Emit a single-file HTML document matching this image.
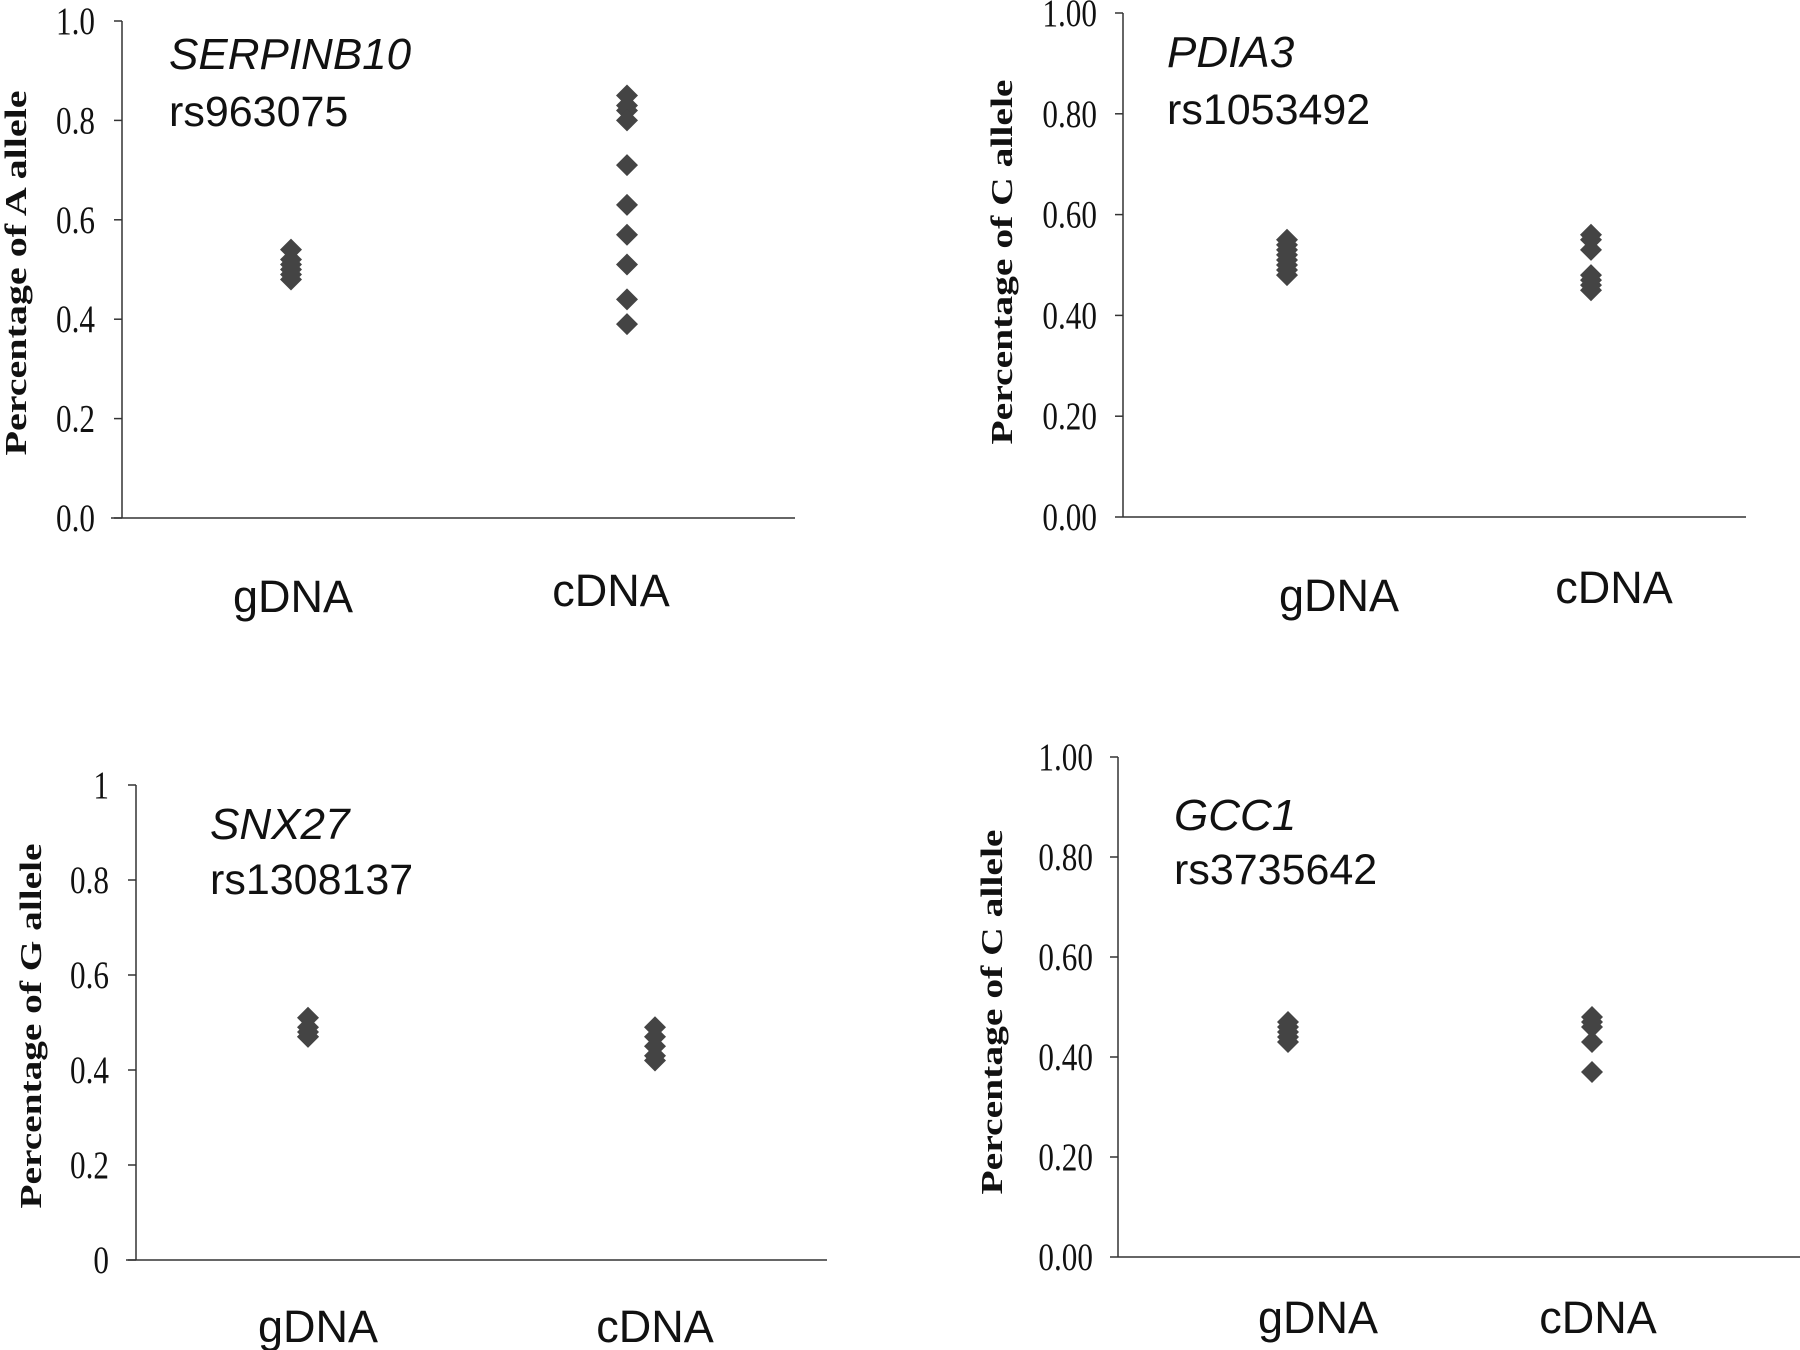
<!DOCTYPE html>
<html><head><meta charset="utf-8"><style>
html,body{margin:0;padding:0;background:#fff;}
svg{display:block;}
.tick{font-family:"Liberation Serif",serif;font-size:39px;fill:#111;}
.ytitle{font-family:"Liberation Serif",serif;font-size:31px;font-weight:bold;fill:#111;}
.cat{font-family:"Liberation Sans",sans-serif;font-size:45px;fill:#111;}
.gene{font-family:"Liberation Sans",sans-serif;font-size:44px;font-style:italic;fill:#111;}
.snp{font-family:"Liberation Sans",sans-serif;font-size:43px;fill:#111;}
</style></head><body>
<svg id="chart" width="1800" height="1350" viewBox="0 0 1800 1350"></svg>
<script>
const p1Gdna=[0.54,0.52,0.51,0.50,0.49,0.48];
const p1Cdna=[0.85,0.83,0.82,0.80,0.71,0.63,0.57,0.51,0.44,0.39];
const p2Gdna=[0.55,0.54,0.53,0.52,0.51,0.50,0.49,0.48];
const p2Cdna=[0.56,0.55,0.53,0.48,0.47,0.46,0.45];
const p3Gdna=[0.51,0.49,0.48,0.47,0.47];
const p3Cdna=[0.49,0.47,0.45,0.43,0.42];
const p4Gdna=[0.47,0.46,0.45,0.44,0.43];
const p4Cdna=[0.48,0.47,0.46,0.43,0.37];
const ticks1=["0.0","0.2","0.4","0.6","0.8","1.0"];
const ticks2=["0.00","0.20","0.40","0.60","0.80","1.00"];
const ticks3=["0","0.2","0.4","0.6","0.8","1"];
const categories=["gDNA","cDNA"];

const NS="http://www.w3.org/2000/svg";
const svg=document.getElementById('chart');
function mk(tag,attrs,parent){const e=document.createElementNS(NS,tag);for(const k in attrs)e.setAttribute(k,attrs[k]);(parent||svg).appendChild(e);return e;}

const panels=[
 {id:'serpinb10',ax:122,y0:518,y1:21,xl:111,xr:795,gx:[291,627],lx:[293,611],lb:[612,606],tr:95,tx:16,ty:273,title:'Percentage of A allele',gene:'SERPINB10',snp:'rs963075',nx:169,nb:69,sb:126,ticks:ticks1,g:p1Gdna,c:p1Cdna},
 {id:'pdia3',ax:1123,y0:517,y1:13,xl:1123,xr:1746,gx:[1287,1591],lx:[1339,1614],lb:[611,603],tr:1097,tx:1002,ty:262,title:'Percentage of C allele',gene:'PDIA3',snp:'rs1053492',nx:1167,nb:67,sb:124,ticks:ticks2,g:p2Gdna,c:p2Cdna},
 {id:'snx27',ax:136,y0:1260,y1:785,xl:126,xr:827,gx:[308,655],lx:[318,655],lb:[1342,1342],tr:109,tx:31,ty:1026,title:'Percentage of G allele',gene:'SNX27',snp:'rs1308137',nx:210,nb:839,sb:894,ticks:ticks3,g:p3Gdna,c:p3Cdna},
 {id:'gcc1',ax:1118,y0:1257,y1:757,xl:1118,xr:1800,gx:[1288,1592],lx:[1318,1598],lb:[1333,1333],tr:1093,tx:992,ty:1012,title:'Percentage of C allele',gene:'GCC1',snp:'rs3735642',nx:1174,nb:830,sb:884,ticks:ticks2,g:p4Gdna,c:p4Cdna}
];

panels.forEach(p=>{
 const g=mk('g',{});
 
 
 const ys=v=>p.y0+(p.y1-p.y0)*v;
 const ya=mk('line',{x1:p.ax,x2:p.ax,y1:p.y1,y2:p.y0,stroke:'#333','stroke-width':1.5},g);
 
 
 const xa=mk('line',{x1:p.xl,x2:p.xr,y1:p.y0,y2:p.y0,stroke:'#333','stroke-width':1.5},g);
 
 
 p.ticks.forEach((t,i)=>{
  const v=i/(p.ticks.length-1);const y=ys(v);
  const tm=mk('line',{x1:p.ax-8,x2:p.ax,y1:y,y2:y,stroke:'#333','stroke-width':1.5},g);
  
  
  const tl=mk('text',{x:0,y:0,'text-anchor':'end',class:'tick',transform:`translate(${p.tr},${y+13}) scale(0.8,1)`},g);
  
  
  tl.textContent=t;
 });
 const yt=mk('text',{x:0,y:0,class:'ytitle','text-anchor':'middle',transform:`translate(${p.tx+10},${p.ty}) rotate(-90)`,textLength:365,lengthAdjust:'spacingAndGlyphs'},g);
 
 
 yt.textContent=p.title;
 const gn=mk('text',{x:p.nx,y:p.nb,class:'gene'},g);
 
 
 gn.textContent=p.gene;
 const sn=mk('text',{x:p.nx,y:p.sb,class:'snp'},g);
 
 
 sn.textContent=p.snp;
 categories.forEach((c,i)=>{
  const cl=mk('text',{x:p.lx[i],y:p.lb[i],'text-anchor':'middle',class:'cat'},g);
  
  
  cl.textContent=c;
 });
 [p.g,p.c].forEach((arr,i)=>{
  const x=p.gx[i];
  arr.forEach(v=>{
   const y=ys(v);const s=11;
   const d=mk('polygon',{points:`${x},${y-s} ${x+s},${y} ${x},${y+s} ${x-s},${y}`,fill:'#444'},g);
   
   
  });
 });
});
</script>
</body></html>
